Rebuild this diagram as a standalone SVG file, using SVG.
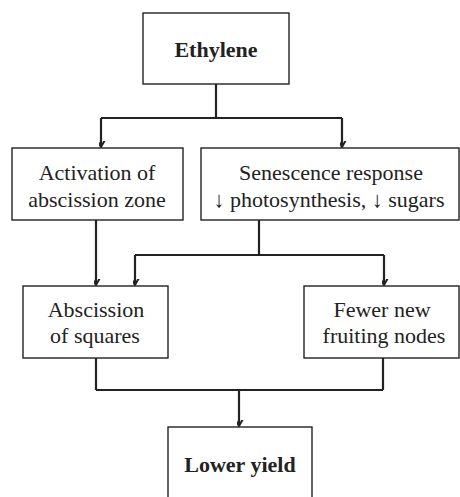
<svg xmlns="http://www.w3.org/2000/svg" width="460" height="497" viewBox="0 0 460 497">
<style>
.box{fill:#fff;stroke:#222;stroke-width:1.4}
.t{font-family:"Liberation Serif","Times New Roman",serif;font-size:22px;fill:#222;text-anchor:middle}
.b{font-weight:bold}
.c{fill:none;stroke:#222;stroke-width:2.2}
</style>
<defs>
<marker id="ah" markerUnits="userSpaceOnUse" markerWidth="12" markerHeight="12" viewBox="-6 -10 12 12" refX="0" refY="0" orient="auto-start-reverse">
<path d="M-4.5,-8 L0,0 L4.5,-8" transform="rotate(-90)" fill="none" stroke="#222" stroke-width="2"/>
</marker>
</defs>
<rect width="460" height="497" fill="#fff"/>
<g id="connectors">
<path class="c" d="M216,84 V118 M101,118 H342"/>
<path class="c" d="M101,118 V147" marker-end="url(#ah)"/>
<path class="c" d="M342,118 V147" marker-end="url(#ah)"/>
<path class="c" d="M96,220 V285" marker-end="url(#ah)"/>
<path class="c" d="M259,220 V255 M135,255 H384"/>
<path class="c" d="M135,255 V285" marker-end="url(#ah)"/>
<path class="c" d="M384,255 V285" marker-end="url(#ah)"/>
<path class="c" d="M96,358 V390 M383,358 V390 M96,390 H383"/>
<path class="c" d="M239,390 V426" marker-end="url(#ah)"/>
</g>
<g id="ethylene">
<rect class="box" x="143" y="13" width="146" height="71"/>
<text class="t b" x="216" y="57">Ethylene</text>
</g>
<g id="activation">
<rect class="box" x="12" y="148" width="171" height="72"/>
<text class="t" x="97" y="180">Activation of</text>
<text class="t" x="97" y="207">abscission zone</text>
</g>
<g id="senescence">
<rect class="box" x="201" y="148" width="258" height="72"/>
<text class="t" x="331" y="180">Senescence response</text>
<text class="t" x="329" y="207">↓ photosynthesis, ↓ sugars</text>
</g>
<g id="abscission">
<rect class="box" x="23" y="286" width="145" height="72"/>
<text class="t" x="96" y="317">Abscission</text>
<text class="t" x="95" y="343">of squares</text>
</g>
<g id="fewer">
<rect class="box" x="304" y="286" width="155" height="72"/>
<text class="t" x="382" y="317">Fewer new</text>
<text class="t" x="384" y="343">fruiting nodes</text>
</g>
<g id="lower">
<rect class="box" x="168" y="427" width="144" height="80"/>
<text class="t b" x="240" y="472">Lower yield</text>
</g>
</svg>
